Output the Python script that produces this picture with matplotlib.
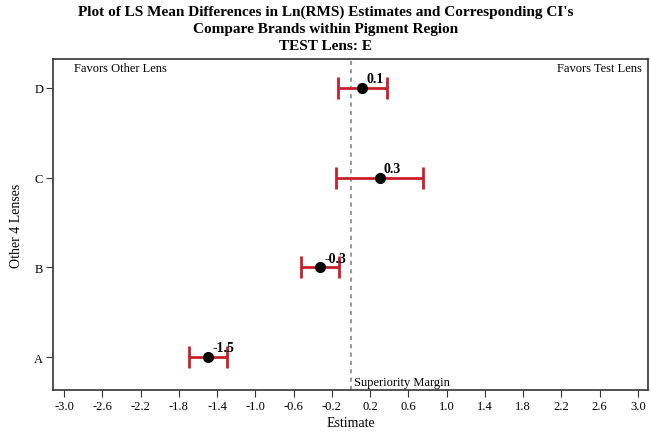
import matplotlib.pyplot as plt
import numpy as np

# data
lenses = ['A', 'B', 'C', 'D']
estimate = [-1.49, -0.32, 0.30, 0.12]
lower = [-1.69, -0.52, -0.16, -0.14]
upper = [-1.30, -0.12, 0.75, 0.38]
labels = ['-1.5', '-0.3', '0.3', '0.1']
xticks = [-3.0, -2.6, -2.2, -1.8, -1.4, -1.0, -0.6, -0.2, 0.2, 0.6, 1.0, 1.4, 1.8, 2.2, 2.6, 3.0]
margin = 0.0

plt.rcParams['font.family'] = ['Liberation Serif', 'DejaVu Serif']

fig = plt.figure(figsize=(6.51, 4.39), dpi=100)
ax = fig.add_axes([0.0814, 0.1093, 0.914, 0.754])

ypos = np.arange(1, len(lenses) + 1)
est = np.array(estimate)
lo = np.array(lower)
hi = np.array(upper)

ax.errorbar(est, ypos, xerr=[est - lo, hi - est], fmt='none', ecolor='#c8202a',
            elinewidth=2, capsize=8, capthick=2, zorder=2)
ax.plot(est, ypos, 'o', color='black', markersize=7, zorder=3)
for x, y, t in zip(est, ypos, labels):
    ax.annotate(t, (x, y), xytext=(3, 2), textcoords='offset points',
                fontsize=10, fontweight='bold', ha='left', va='bottom')

ax.axvline(margin, color='#9a9a9a', linestyle=(0, (2, 2)), linewidth=1.5, zorder=1)
ax.text(margin + 0.03, 0.66, 'Superiority Margin', fontsize=9, ha='left', va='bottom')
ax.text(-2.9, 4.29, 'Favors Other Lens', fontsize=9, ha='left', va='top')
ax.text(3.04, 4.29, 'Favors Test Lens', fontsize=9, ha='right', va='top')

ax.set_xlim(-3.115, 3.105)
ax.set_ylim(0.632, 4.323)
ax.set_xticks(xticks)
ax.set_xticklabels(['%.1f' % v for v in xticks], fontsize=9)
ax.set_yticks(ypos)
ax.set_yticklabels(lenses, fontsize=9)
ax.tick_params(direction='out', length=5, color='#333333', pad=2)
for s in ax.spines.values():
    s.set_color('#333333')
    s.set_linewidth(1.2)

ax.set_xlabel('Estimate', fontsize=10, labelpad=3)
ax.set_ylabel('Other 4 Lenses', fontsize=10, labelpad=8)

fig.text(0.5, 0.988, "Plot of LS Mean Differences in Ln(RMS) Estimates and Corresponding CI's\n"
         "Compare Brands within Pigment Region\nTEST Lens: E",
         ha='center', va='top', fontsize=11, fontweight='bold', linespacing=1.4)

fig.savefig('out.png', dpi=100)
